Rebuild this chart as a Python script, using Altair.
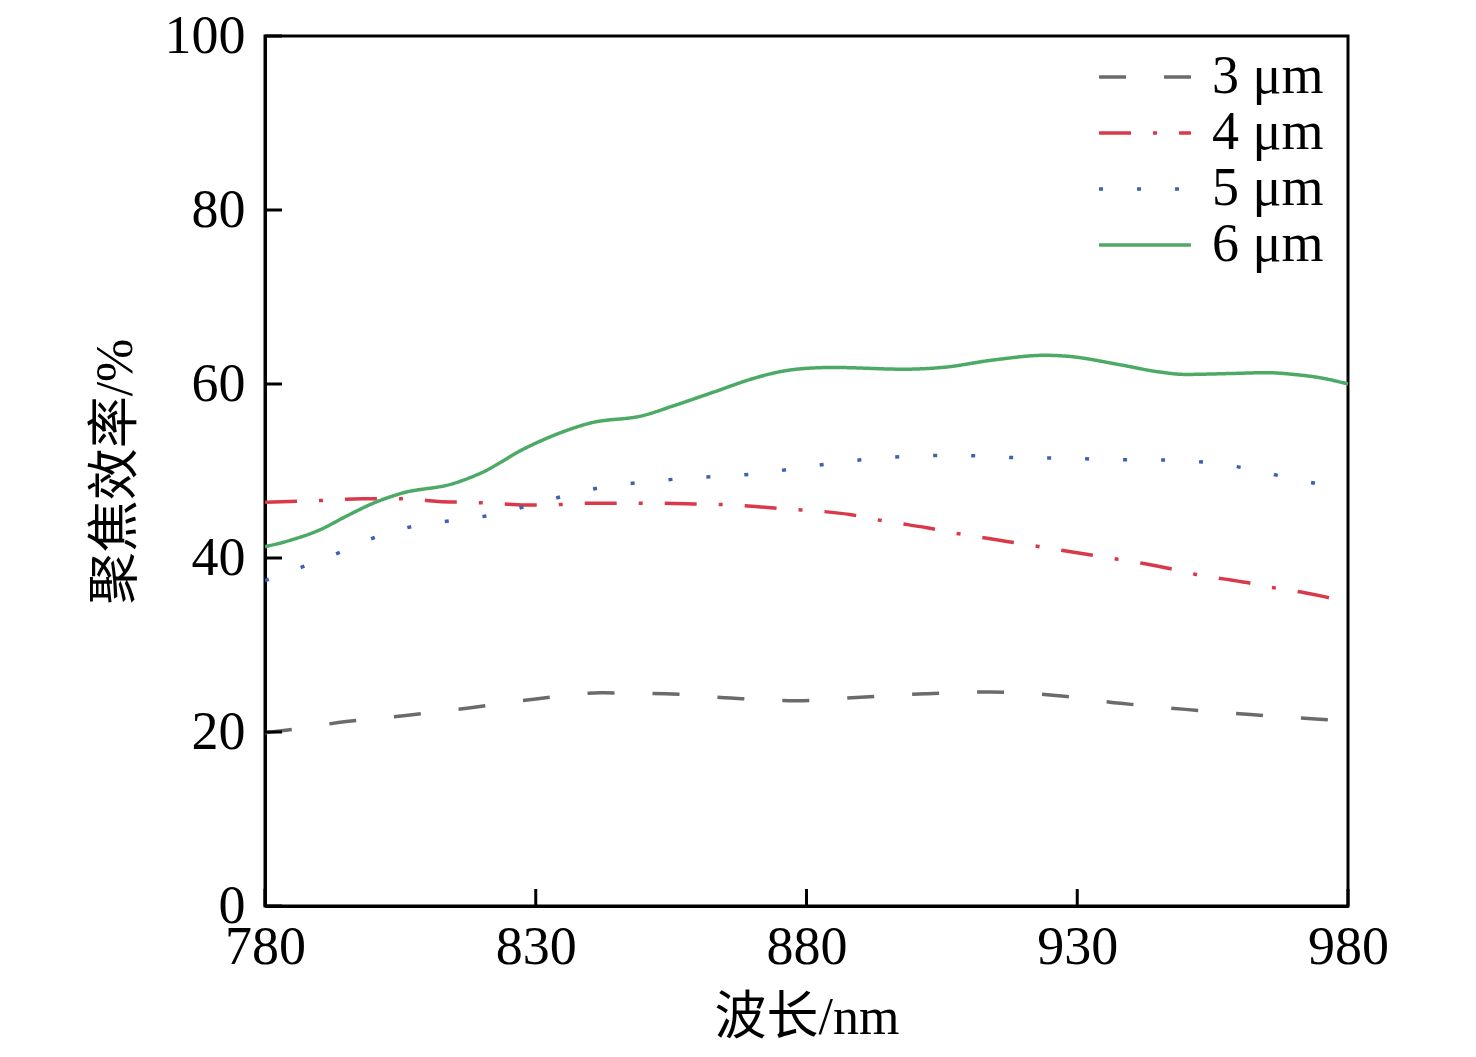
import altair as alt
import pandas as pd

# ---- data ----
series_names = ["3 μm", "4 μm", "5 μm", "6 μm"]

x3 = [780, 785, 795, 806, 818, 830, 842, 854, 866, 878, 890, 902, 914, 926, 938, 950, 962, 974, 980]
y3 = [19.9, 20.3, 21.2, 21.9, 22.8, 23.8, 24.5, 24.4, 23.9, 23.6, 24.0, 24.4, 24.6, 24.2, 23.3, 22.6, 22.0, 21.5, 21.3]

x4 = [780, 790, 798, 806, 812, 817, 822, 828, 832, 840, 847, 852, 860, 866, 871, 877, 882, 888, 893,
      897, 902, 907, 912, 917, 922, 927, 932, 937, 942, 947, 952, 957, 962, 967, 972, 976, 980]
y4 = [46.4, 46.6, 46.8, 46.8, 46.5, 46.4, 46.3, 46.1, 46.1, 46.3, 46.3, 46.3, 46.2, 46.1, 45.9, 45.6, 45.4, 45.0, 44.4,
      44.0, 43.5, 42.9, 42.4, 41.9, 41.4, 40.9, 40.4, 39.9, 39.4, 38.8, 38.1, 37.6, 37.1, 36.5, 36.0, 35.5, 34.9]

x5 = [780, 787, 794, 800, 807, 814.5, 821.5, 828.5, 835, 842, 849.5, 856.5, 864, 871, 878, 885, 892, 899,
      906.5, 913.5, 920.5, 928, 935, 942, 949, 956.5, 963.5, 970.5, 977.5, 980]
y5 = [37.4, 39.0, 40.7, 42.3, 43.6, 44.3, 44.9, 46.0, 47.1, 48.1, 48.7, 49.1, 49.4, 49.7, 50.3, 50.9, 51.4, 51.7,
      51.8, 51.7, 51.5, 51.5, 51.3, 51.3, 51.2, 50.8, 50.0, 49.0, 48.2, 47.9]

x6 = [780, 785, 790, 795, 800, 805, 815, 820, 828, 835, 840, 850, 855, 863, 870, 875, 880, 885, 898, 905,
      915, 924, 928, 938, 945, 950, 958, 965, 970, 975, 980]
y6 = [41.3, 42.1, 43.2, 44.8, 46.3, 47.4, 48.6, 49.8, 52.6, 54.5, 55.5, 56.4, 57.4, 59.1, 60.6, 61.4, 61.8, 61.9, 61.7, 61.9,
      62.8, 63.3, 63.2, 62.2, 61.4, 61.1, 61.2, 61.3, 61.1, 60.7, 60.0]

x_ticks = [780, 830, 880, 930, 980]
y_ticks = [0, 20, 40, 60, 80, 100]

colors = ["#6b6b6b", "#d9394a", "#3c62b0", "#4caa66"]
dashes = [[27, 38], [32, 22, 4, 22], [4, 34], [1, 0]]

rows = []
for name, xs, ys in zip(series_names, [x3, x4, x5, x6], [y3, y4, y5, y6]):
    for a, b in zip(xs, ys):
        rows.append({"wl": a, "eff": b, "series": name})
df = pd.DataFrame(rows)

W, H = 1083, 870
SERIF = "Liberation Serif, Noto Sans CJK SC"

xscale = alt.Scale(domain=[780, 980], nice=False, zero=False)
yscale = alt.Scale(domain=[0, 100], nice=False)

lines = alt.Chart(df).mark_line(strokeWidth=3.5, interpolate="monotone", clip=True).encode(
    x=alt.X("wl:Q", scale=xscale,
            axis=alt.Axis(values=x_ticks, title="波长/nm", format="d")),
    y=alt.Y("eff:Q", scale=yscale,
            axis=alt.Axis(values=y_ticks, title="聚焦效率/%", format="d")),
    color=alt.Color("series:N", scale=alt.Scale(domain=series_names, range=colors),
                    legend=alt.Legend(title=None)),
    strokeDash=alt.StrokeDash("series:N", scale=alt.Scale(domain=series_names, range=dashes),
                              legend=alt.Legend(title=None)),
    order=alt.Order("wl:Q"),
)

xt = alt.Chart(pd.DataFrame({"t": x_ticks})).mark_rule(color="black", strokeWidth=3).encode(
    x=alt.X("t:Q", scale=xscale),
    y=alt.value(H),
    y2=alt.value(H - 17),
)
yt = alt.Chart(pd.DataFrame({"t": y_ticks})).mark_rule(color="black", strokeWidth=3).encode(
    y=alt.Y("t:Q", scale=yscale),
    x=alt.value(0),
    x2=alt.value(17),
)

chart = alt.layer(lines, xt, yt).properties(
    width=W, height=H,
    autosize=alt.AutoSizeParams(type="none"),
    padding={"left": 257, "top": 28, "right": 120, "bottom": 143},
    background="white",
).configure_view(
    stroke="black", strokeWidth=3
).configure_axis(
    grid=False, ticks=False, domainColor="black", domainWidth=3,
    labelFont=SERIF, labelFontSize=54, labelColor="black", labelOverlap=False, labelFlush=False,
    titleFont=SERIF, titleFontSize=52, titleColor="black", titleFontWeight="normal",
).configure_axisX(
    labelPadding=14, titlePadding=18,
).configure_axisY(
    labelPadding=20, titlePadding=22,
).configure_legend(
    orient="none", legendX=853, legendY=14,
    symbolType="M-8,0H8", symbolSize=132, symbolStrokeWidth=3.5, symbolFillColor="transparent",
    labelFont=SERIF, labelFontSize=54, labelColor="black", labelOffset=40,
    rowPadding=2, labelLimit=400,
)

chart.save("out.html", embed_options={"renderer": "svg", "actions": False})
